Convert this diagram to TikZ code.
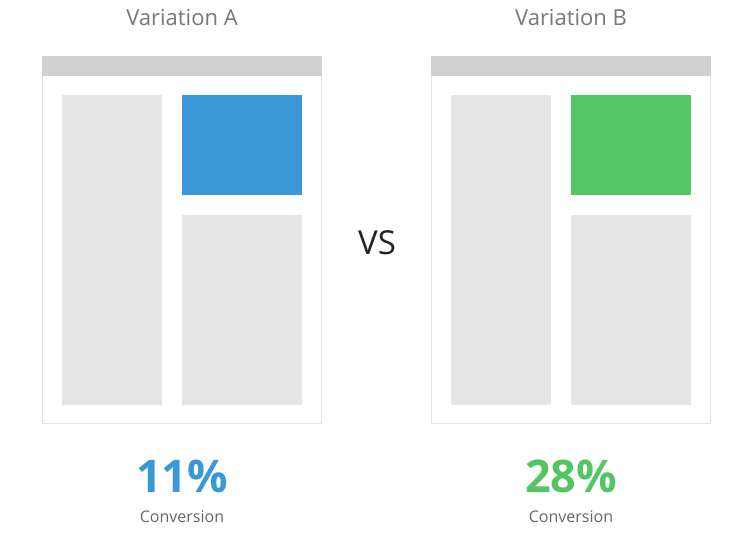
\documentclass[tikz,border=0pt]{standalone}
\usepackage{fontspec}
\setmainfont{Open Sans}
\definecolor{framegray}{HTML}{E3E3E3}
\definecolor{headgray}{HTML}{D0D0D0}
\definecolor{blockgray}{HTML}{E5E5E5}
\definecolor{ablue}{HTML}{3A98D6}
\definecolor{bgreen}{HTML}{54C563}
\definecolor{titlegray}{HTML}{777777}
\definecolor{convgray}{HTML}{666666}
\definecolor{vsdark}{HTML}{222222}
\begin{document}
\begin{tikzpicture}[x=1pt,y=-1pt,
  frame/.style={draw=framegray,line width=1pt,fill=white},
  head/.style={fill=headgray},
  block/.style={fill=blockgray},
  title/.style={text=titlegray,font=\fontsize{22}{25}\selectfont},
  pct/.style={font=\bfseries\fontsize{45}{50}\selectfont},
  conv/.style={text=convgray,font=\fontsize{16}{19}\selectfont}]
\useasboundingbox (0,0) rectangle (750,536);
% Variation A
\node[title] (ta) at (182,18) {Variation A};
\draw[frame] (42.5,56.5) rectangle (321.5,423.5);
\fill[head] (42,56) rectangle (322,76);
\fill[block] (62,95) rectangle (162,405);
\fill[ablue] (182,95) rectangle (302,195);
\fill[block] (182,215) rectangle (302,405);
\node[pct,text=ablue] (pa) at (182,476) {11\%};
\node[conv] (ca) at (182,517) {Conversion};
% VS
\node[text=vsdark,font=\fontsize{33}{36}\selectfont] (vs) at (377,243) {VS};
% Variation B
\node[title] (tb) at (571,18) {Variation B};
\draw[frame] (431.5,56.5) rectangle (710.5,423.5);
\fill[head] (431,56) rectangle (711,76);
\fill[block] (451,95) rectangle (551,405);
\fill[bgreen] (571,95) rectangle (691,195);
\fill[block] (571,215) rectangle (691,405);
\node[pct,text=bgreen] (pb) at (571,476) {28\%};
\node[conv] (cb) at (571,517) {Conversion};
\end{tikzpicture}
\end{document}
